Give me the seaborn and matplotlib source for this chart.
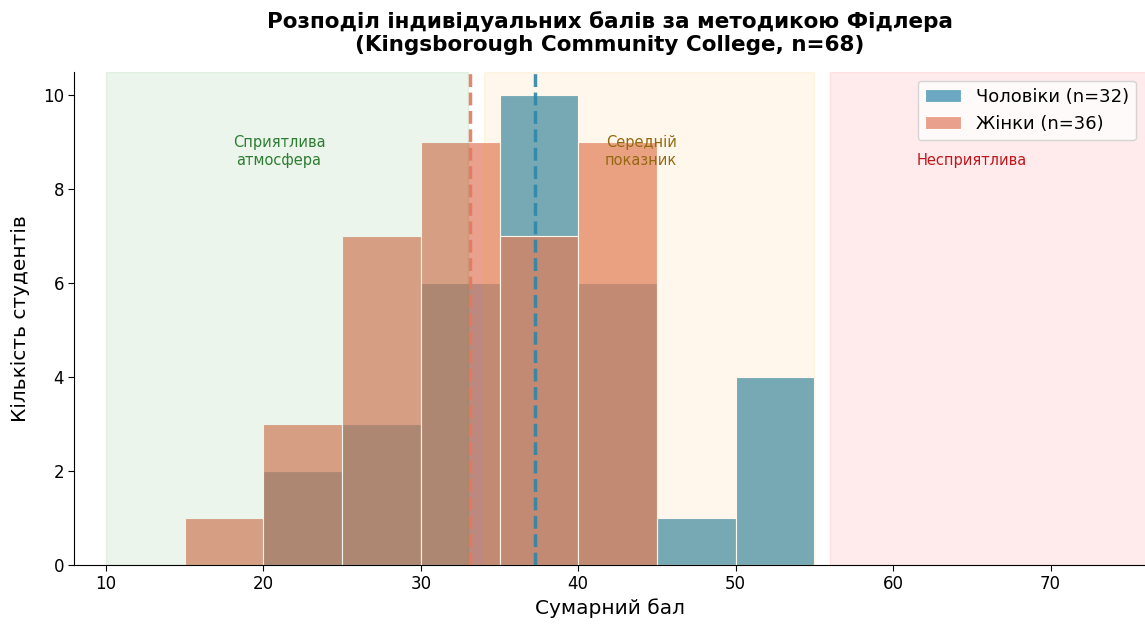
import matplotlib
matplotlib.use("Agg")
import matplotlib.pyplot as plt
import seaborn as sns
import pandas as pd

# bin edges (width 5) and counts per bin
bin_edges = [10, 15, 20, 25, 30, 35, 40, 45, 50, 55]
bin_left = [10, 15, 20, 25, 30, 35, 40, 45, 50]
men_counts = [0, 0, 2, 3, 6, 10, 6, 1, 4]
women_counts = [0, 1, 3, 7, 9, 7, 9, 0, 0]
men_mean = 37.25
women_mean = 33.15

men_label = 'Чоловіки (n=32)'
women_label = 'Жінки (n=36)'

# zones of the Fiedler method
zones = [
    (10, 33, 'green', 'Сприятлива\nатмосфера', 21, 8.8, '#2E7D32'),
    (34, 55, 'orange', 'Середній\nпоказник', 44, 8.8, '#94680F'),
    (56, 80, 'red', 'Несприятлива', 65, 8.6, '#C0161B'),
]

men = pd.DataFrame({'score': [x + 2.5 for x in bin_left], 'count': men_counts})
women = pd.DataFrame({'score': [x + 2.5 for x in bin_left], 'count': women_counts})

sns.set_style('white')
plt.rcParams.update({'text.color': 'black', 'axes.labelcolor': 'black',
                     'xtick.color': 'black', 'ytick.color': 'black',
                     'axes.edgecolor': 'black'})
fig, ax = plt.subplots(figsize=(11.45, 6.24), dpi=100)

sns.histplot(data=men, x='score', weights='count', bins=bin_edges, color='#2E86AB',
             alpha=0.7, edgecolor='white', linewidth=0.8, label=men_label, ax=ax)
sns.histplot(data=women, x='score', weights='count', bins=bin_edges, color='#E07A5F',
             alpha=0.7, edgecolor='white', linewidth=0.8, label=women_label, ax=ax)

# zones are laid over the bars, as in the original
for lo, hi, col, txt, tx, ty, tcol in zones:
    ax.axvspan(lo, hi, color=col, alpha=0.08)
    ax.text(tx, ty, txt, ha='center', va='center', fontsize=10.5, color=tcol, zorder=5)

ax.axvline(men_mean, color='#2E86AB', linestyle='--', linewidth=2.5, alpha=0.9, zorder=4)
ax.axvline(women_mean, color='#E07A5F', linestyle='--', linewidth=2.5, alpha=0.9, zorder=4)

ax.set_xlim(8, 76)
ax.set_ylim(0, 10.5)
ax.set_title('Розподіл індивідуальних балів за методикою Фідлера\n(Kingsborough Community College, n=68)',
             fontsize=15.5, fontweight='bold', pad=15)
ax.set_xlabel('Сумарний бал', fontsize=14.5)
ax.set_ylabel('Кількість студентів', fontsize=14.5, labelpad=9)
ax.tick_params(axis='both', labelsize=12, length=4, left=True, bottom=True)
ax.legend(loc='upper right', fontsize=13)
sns.despine(ax=ax)

plt.subplots_adjust(left=0.065, right=1.0, top=0.885, bottom=0.095)
plt.savefig('out.png', dpi=100)
